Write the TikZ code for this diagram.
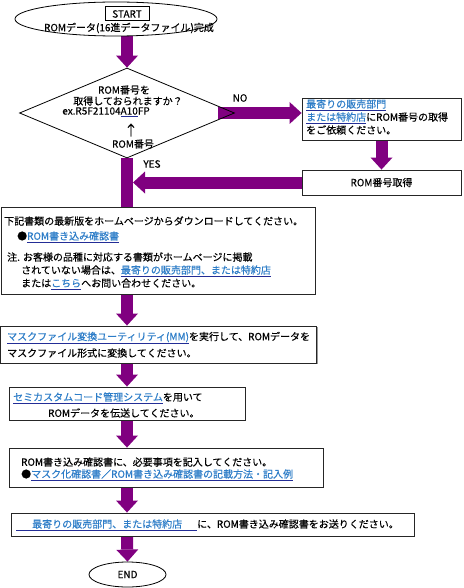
\documentclass[tikz,border=0pt]{standalone}
\usepackage{fontspec}
\setmainfont{Noto Sans CJK JP}[FakeBold=0.3]
\setsansfont{Noto Sans CJK JP}[FakeBold=0.3]
\usetikzlibrary{arrows.meta, shapes.geometric, shadows, backgrounds}

\definecolor{flowpurple}{RGB}{128,0,128}
\definecolor{linkblue}{RGB}{45,125,200}
\definecolor{linkline}{RGB}{35,45,150}
\newcommand{\lnk}[1]{{\color{linkline}\underline{\textcolor{linkblue}{#1}}}}
\newcommand{\ulmark}[1]{{\color{linkline}\underline{\textcolor{black}{#1}}}}

\begin{document}
\begin{tikzpicture}[
  x=1pt, y=-1pt,
  every node/.style={inner sep=0pt, font=\fontsize{10}{12}\selectfont},
  stepbox/.style={rectangle, draw=black!85, line width=0.9pt, fill=white,
    drop shadow={shadow xshift=1.2pt, shadow yshift=-1.2pt, fill=black!40, opacity=1}},
  terminal/.style={ellipse, draw, line width=0.8pt},
  decision/.style={diamond, draw, line width=0.8pt},
  txt/.style={anchor=west},
  bar/.style={draw=flowpurple, line width=12pt},
  fatarrow/.style={bar, -{Triangle[width=22pt, length=12pt, line width=0pt]}}
]
\useasboundingbox (0,0) rectangle (463,588);

% Start
\node[terminal, minimum width=202pt, minimum height=34pt] (start) at (116,19) {};
\node[draw, line width=1pt, minimum width=44pt, minimum height=14pt] (startlabel) at (127,14) {START};
\node (starttext) at (129,28) {ROMデータ(16進データファイル)完成};

% Decision
\node[decision, minimum width=215pt, minimum height=90pt] (ask) at (127,113) {};
\node (ask1) at (124,90) {ROM番号を};
\node (ask2) at (128,101) {取得しておられますか？};
\node (ask3) at (106,112) {ex.R5F21104\ulmark{A10}FP};
\node[font=\fontsize{14}{14}\selectfont] (askarrow) at (131,130) {↑};
\node (ask4) at (133,144) {ROM番号};
\node (nolabel) at (240,98) {NO};
\node (yeslabel) at (152,164) {YES};

% Right branch
\node[stepbox, minimum width=159pt, minimum height=42pt] (request) at (381.5,119) {};
\node[txt] (request1) at (306,105) {\lnk{最寄りの販売部門}};
\node[txt] (request2) at (306,118) {\lnk{または特約店}にROM番号の取得};
\node[txt] (request3) at (306,130) {をご依頼ください。};
\node[stepbox, minimum width=159pt, minimum height=25pt] (romno) at (381.5,182.5) {ROM番号取得};

% Download
\node[stepbox, minimum width=314pt, minimum height=87pt] (download) at (158,250.5) {};
\node[txt] (download1) at (4,221) {下記書類の最新版をホームページからダウンロードしてください。};
\node[txt] (download2) at (17,237) {●\lnk{ROM書き込み確認書}};
\node[txt] (download3) at (7,257) {注. お客様の品種に対応する書類がホームページに掲載};
\node[txt] (download4) at (21,271) {されていない場合は、\lnk{最寄りの販売部門、または特約店}};
\node[txt] (download5) at (21,284) {または\lnk{こちら}へお問い合わせください。};

% Convert
\node[stepbox, minimum width=316pt, minimum height=37pt] (convert) at (158.5,344.5) {};
\node[txt] (convert1) at (7,338) {\lnk{マスクファイル変換ユーティリティ(MM)}を実行して、ROMデータを};
\node[txt] (convert2) at (7,353) {マスクファイル形式に変換してください。};

% Transfer
\node[stepbox, minimum width=236pt, minimum height=33pt] (transfer) at (127,403.5) {};
\node[txt] (transfer1) at (13,398) {\lnk{セミカスタムコード管理システム}を用いて};
\node[txt] (transfer2) at (48,413) {ROMデータを伝送してください。};

% Fill in
\node[stepbox, minimum width=314pt, minimum height=39pt] (fillin) at (166,467.5) {};
\node[txt] (fillin1) at (21,462) {ROM書き込み確認書に、必要事項を記入してください。};
\node[txt] (fillin2) at (21,475) {●\lnk{マスク化確認書／ROM書き込み確認書の記載方法・記入例}};

% Send
\node[stepbox, minimum width=403pt, minimum height=23pt] (send) at (212.5,524.5) {};
\node[txt] (send1) at (16,525) {\lnk{\hspace{16pt}最寄りの販売部門、または特約店\hspace{15pt}}に、ROM書き込み確認書をお送りください。};

% End
\node[terminal, minimum width=77pt, minimum height=25pt] (finish) at (127.5,574.5) {END};

% Arrows
\begin{scope}[on background layer]
\draw[fatarrow] ([xshift=11pt]start.south) -- (ask.north);
\draw[fatarrow] ([xshift=-17pt]ask.east) -- (ask.east -| request.west);
\draw[fatarrow] (request.south) -- (romno.north);
\draw[fatarrow] (romno.west) -- ([xshift=6pt]ask.south |- romno.west);
\draw[bar] (ask.south) -- (ask.south |- download.north);
\draw[fatarrow] (ask.south |- download.south) -- (ask.south |- convert.north);
\draw[fatarrow] (ask.south |- convert.south) -- (ask.south |- transfer.north);
\draw[fatarrow] (ask.south |- transfer.south) -- (ask.south |- fillin.north);
\draw[fatarrow] (ask.south |- fillin.south) -- (ask.south |- send.north);
\draw[fatarrow] (ask.south |- send.south) -- (finish.north);
\end{scope}

\end{tikzpicture}
\end{document}
